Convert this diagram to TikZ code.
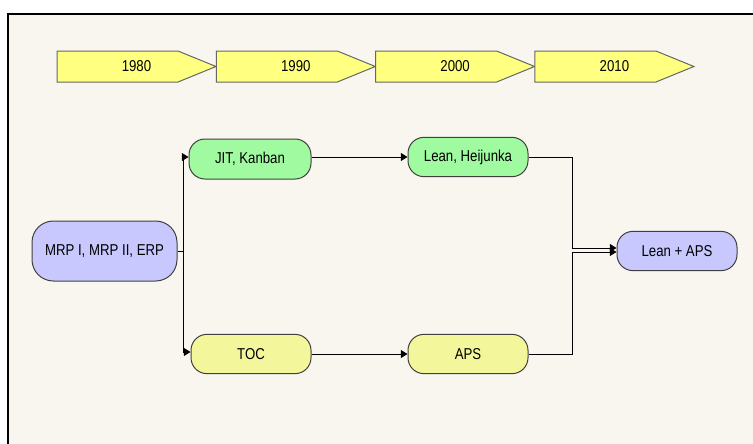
\documentclass[tikz,border=0pt]{standalone}
\usepackage{fontspec}
\setmainfont{Liberation Sans}[FakeStretch=0.84]
\usetikzlibrary{arrows.meta}

\definecolor{paper}{RGB}{249,246,240}
\definecolor{yearfill}{RGB}{255,255,128}
\definecolor{lavender}{RGB}{200,200,255}
\definecolor{mint}{RGB}{160,250,160}
\definecolor{pale}{RGB}{243,246,154}

\begin{document}
\begin{tikzpicture}[x=0.75pt,y=-0.75pt]
    \tikzstyle{year}=[draw=black!60, fill=yearfill, line width=0.75pt]
    \tikzstyle{label}=[font=\fontsize{11.8}{14}\selectfont]
    \tikzstyle{stage}=[rectangle, rounded corners=12pt, draw=black!75, line width=0.75pt,
        minimum width=90pt, minimum height=29.5pt, inner sep=0pt, label]
    \tikzstyle{link}=[line width=0.75pt, >={Triangle[length=5pt,width=6pt]}]

    \useasboundingbox (0,0) rectangle (753,443);
    \fill[white] (-10,-10) rectangle (770,460);
    \draw[line width=1.5pt, fill=paper] (8,14) rectangle (790,480);

    % timeline
    \foreach \yr [count=\i from 0] in {1980,1990,2000,2010} {
        \pgfmathsetmacro{\xa}{57 + \i*159.3}
        \draw[year] (\xa,51) -- ++(121,0) -- ++(38,15.5) -- ++(-38,15.5) -- ++(-121,0) -- cycle;
        \node[label] (y\yr) at (\xa+79.5,66.5) {\yr};
    }

    % stages
    \node[stage, fill=lavender, minimum width=108.75pt, minimum height=45pt, rounded corners=16pt]
        (mrp) at (104.5,251) {MRP I, MRP II, ERP};
    \node[stage, fill=mint, minimum width=91.5pt, minimum height=30pt] (jit) at (250,159) {JIT, Kanban};
    \node[stage, fill=mint] (lean) at (468,157) {Lean, Heijunka};
    \node[stage, fill=pale] (toc) at (251,354) {TOC};
    \node[stage, fill=pale] (aps) at (468,354) {APS};
    \node[stage, fill=lavender] (leanaps) at (677,251) {Lean + APS};

    % connectors
    \coordinate (split) at (183.5,251);
    \coordinate (mergeA) at (572.5,248);
    \coordinate (mergeB) at (572.5,252);
    \draw[link] (mrp.east) -- (split);
    \draw[link, ->] (split) |- ([yshift=1.5pt]jit.west);
    \draw[link, ->] (split) |- ([yshift=1.5pt]toc.west);
    \draw[link, ->] (jit.east |- lean.west) -- (lean.west);
    \draw[link, ->] (toc.east) -- (aps.west);
    \draw[link, ->] (lean.east) -| (mergeA) -- (mergeA -| leanaps.west);
    \draw[link, ->] (aps.east) -| (mergeB) -- (mergeB -| leanaps.west);
\end{tikzpicture}
\end{document}
